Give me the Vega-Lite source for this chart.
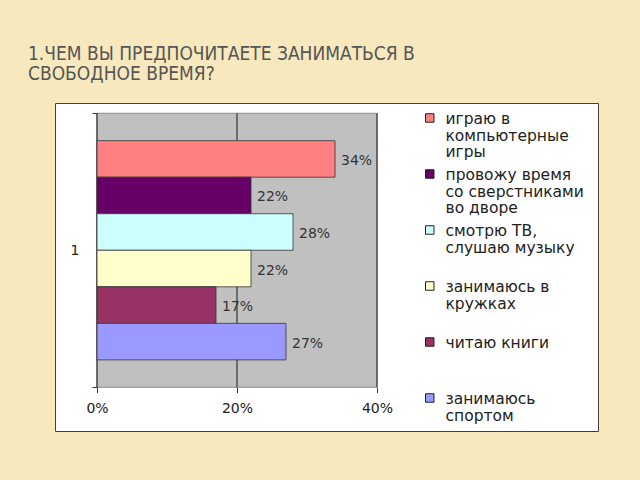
{
  "$schema": "https://vega.github.io/schema/vega-lite/v6.json",
  "width": 543,
  "height": 328,
  "autosize": {"type": "none"},
  "padding": {"left": 55, "top": 103, "right": 42, "bottom": 49},
  "background": "#F7E8BD",
  "config": {
    "view": {"fill": "white", "stroke": "#404040", "strokeWidth": 1},
    "font": "DejaVu Sans"
  },
  "title": {
    "text": ["1.ЧЕМ ВЫ ПРЕДПОЧИТАЕТЕ ЗАНИМАТЬСЯ В", "СВОБОДНОЕ ВРЕМЯ?"],
    "anchor": "start",
    "frame": "group",
    "orient": "top",
    "dx": -27,
    "dy": 25,
    "offset": 18,
    "baseline": "bottom",
    "font": "DejaVu Sans Condensed",
    "fontSize": 19,
    "fontWeight": "normal",
    "color": "#555555",
    "lineHeight": 20
  },
  "datasets": {
    "answers": [
      {"group": "1", "activity": "играю в компьютерные игры", "share": 0.34},
      {"group": "1", "activity": "провожу время со сверстниками во дворе", "share": 0.22},
      {"group": "1", "activity": "смотрю ТВ, слушаю музыку", "share": 0.28},
      {"group": "1", "activity": "занимаюсь в кружках", "share": 0.22},
      {"group": "1", "activity": "читаю книги", "share": 0.17},
      {"group": "1", "activity": "занимаюсь спортом", "share": 0.27}
    ],
    "grid": [{"tick": 0}, {"tick": 0.2}, {"tick": 0.4}]
  },
  "layer": [
    {
      "data": {"values": [{}]},
      "mark": {"type": "rect", "fill": "#C0C0C0", "stroke": "#8C8C8C", "strokeWidth": 1},
      "encoding": {
        "x": {"datum": 0, "type": "quantitative"},
        "x2": {"datum": 0.4},
        "y": {"datum": "1", "type": "nominal"}
      }
    },
    {
      "data": {"name": "grid"},
      "mark": {"type": "rect", "fill": null, "stroke": "#505050", "strokeWidth": 1},
      "encoding": {
        "x": {"field": "tick", "type": "quantitative"},
        "x2": {"field": "tick"},
        "y": {"datum": "1", "type": "nominal"}
      }
    },
    {
      "data": {"name": "answers"},
      "mark": {"type": "bar", "stroke": "#333333", "strokeWidth": 0.8},
      "encoding": {
        "x": {
          "field": "share",
          "type": "quantitative",
          "scale": {"domain": [-0.06, 0.7157], "nice": false, "zero": false},
          "axis": {
            "values": [0, 0.2, 0.4],
            "format": ".0%",
            "title": null,
            "offset": -43.5,
            "domain": false,
            "grid": false,
            "tickSize": 5,
            "tickColor": "#333333",
            "labelFont": "DejaVu Sans",
            "labelFontSize": 14,
            "labelColor": "#222222",
            "labelPadding": 9
          }
        },
        "y": {
          "field": "group",
          "type": "nominal",
          "scale": {"paddingInner": 0, "paddingOuter": 0.0985, "align": 0.19},
          "axis": {
            "title": null,
            "offset": -42,
            "domain": false,
            "tickBand": "extent",
            "tickSize": 5,
            "tickColor": "#333333",
            "labelFont": "DejaVu Sans",
            "labelFontSize": 14,
            "labelColor": "#222222",
            "labelPadding": 13,
            "labelAngle": 0
          }
        },
        "yOffset": {
          "field": "activity",
          "type": "nominal",
          "sort": null,
          "scale": {"paddingInner": 0, "paddingOuter": 0.75}
        },
        "color": {
          "field": "activity",
          "type": "nominal",
          "sort": null,
          "scale": {
            "domain": ["играю в компьютерные игры", "провожу время со сверстниками во дворе", "смотрю ТВ, слушаю музыку", "занимаюсь в кружках", "читаю книги", "занимаюсь спортом"],
            "range": ["#FF8080", "#660066", "#CCFFFF", "#FFFFCC", "#993366", "#9999FF"]
          },
          "legend": {
            "orient": "none",
            "legendX": 367,
            "legendY": 9,
            "title": null,
            "padding": 0,
            "symbolType": "square",
            "symbolSize": 72,
            "symbolStrokeColor": "#222222",
            "symbolStrokeWidth": 1,
            "symbolOpacity": 1,
            "labelFont": "DejaVu Sans",
            "labelFontSize": 15.5,
            "labelColor": "#222222",
            "labelLimit": 300,
            "labelOffset": 8,
            "labelBaseline": "alphabetic",
            "clipHeight": 55.5,
            "rowPadding": 0,
            "labelExpr": "datum.label == 'играю в компьютерные игры' ? ['играю в', 'компьютерные', 'игры'] : datum.label == 'провожу время со сверстниками во дворе' ? ['провожу время', 'со сверстниками', 'во дворе'] : datum.label == 'смотрю ТВ, слушаю музыку' ? ['смотрю ТВ,', 'слушаю музыку'] : datum.label == 'занимаюсь в кружках' ? ['занимаюсь в', 'кружках'] : datum.label == 'занимаюсь спортом' ? ['занимаюсь', 'спортом'] : datum.label",
            "encode": {
              "symbols": {"update": {"y": {"value": 6}}},
              "labels": {"update": {"y": {"value": 12}, "lineHeight": {"value": 16.5}}}
            }
          }
        }
      }
    },
    {
      "data": {"name": "answers"},
      "mark": {"type": "text", "align": "left", "baseline": "middle", "dx": 6, "dy": 2, "font": "DejaVu Sans", "fontSize": 14, "color": "#333333"},
      "encoding": {
        "x": {"field": "share", "type": "quantitative"},
        "y": {"field": "group", "type": "nominal"},
        "yOffset": {"field": "activity", "type": "nominal", "sort": null},
        "text": {"field": "share", "type": "quantitative", "format": ".0%"}
      }
    },
    {
      "mark": {"type": "rule", "color": "#606060", "strokeWidth": 1},
      "encoding": {"x": {"datum": 0.4514, "type": "quantitative"}}
    }
  ]
}
